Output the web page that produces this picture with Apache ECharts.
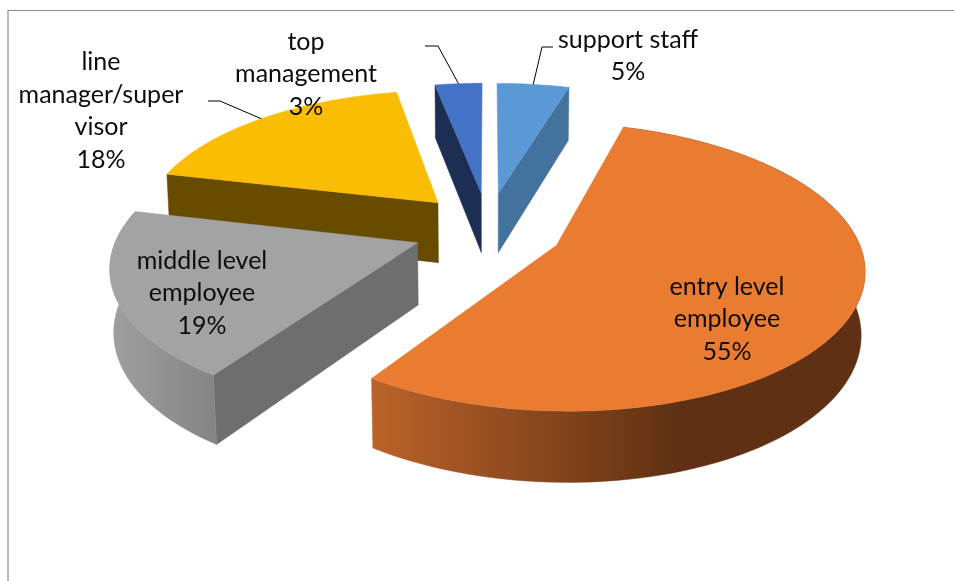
<!DOCTYPE html>
<html>
<head>
<meta charset="utf-8">
<title>Employee levels</title>
<script src="https://cdn.jsdelivr.net/npm/echarts@6/dist/echarts.min.js"></script>
<style>
  html, body { margin: 0; padding: 0; background: #fff; }
  #chart-container { width: 954px; height: 581px; }
</style>
</head>
<body>
<div id="chart-container"></div>
<script>
// values, clockwise from 12 o'clock (labels show them rounded)
var categories = ['support staff', 'entry level employee', 'middle level employee', 'line manager/supervisor', 'top management'];
var shares = [4.6, 54.9, 19.2, 18.3, 3.0];
var wrappedLabels = ['support staff', 'entry level\nemployee', 'middle level\nemployee', 'line\nmanager/super\nvisor', 'top\nmanagement'];

// styling, one entry per slice
var topColors = ['#5A99D6', '#EA7C32', '#A3A3A3', '#FBBC04', '#4472C4'];
var cutColors = ['#44729F', '#5F3013', '#6E6E6E', '#674C00', '#1C2F52'];
var wallStops = [
  ['#44729F', '#44729F'],
  ['#BB632A', '#5F3013', '#5F3013'],
  ['#A0A0A0', '#848484'],
  ['#674C00', '#674C00'],
  ['#1C2F52', '#1C2F52']
];
var labelCenters = [[628, 56], [727, 319], [202, 293], [101, 111], [306, 74]];
var leaders = [[[553, 47], [542, 47]], null, null, [[208, 101], [220, 101]], [[425, 46], [438, 46]]];

// pie projection: plane to screen with simple perspective
var cx = 488, cy = 229;
var scaleX = 298, scaleY = 136, depth = 62;
var persp = 0.148, explode = 0.25, explodeY = 1.1;

function project(x, y, z) {
  var w = 1 / (1 + persp * y + 0.01 * z);
  return [cx + scaleX * x * w, cy - scaleY * y * w + depth * z * w];
}

var total = shares.reduce(function (a, b) { return a + b; }, 0);
var slices = [];
var acc = 0;
shares.forEach(function (v) {
  var start = acc / total * Math.PI * 2;
  acc += v;
  var end = acc / total * Math.PI * 2;
  var mid = (start + end) / 2;
  slices.push({ start: start, end: end, mid: mid, ox: explode * Math.sin(mid), oy: explode * explodeY * Math.cos(mid) });
});

function rimPoints(s, z) {
  var n = Math.max(6, Math.round((s.end - s.start) * 30));
  var pts = [];
  for (var i = 0; i <= n; i++) {
    var a = s.start + (s.end - s.start) * i / n;
    pts.push(project(s.ox + Math.sin(a), s.oy + Math.cos(a), z));
  }
  return pts;
}

function gradient(stops) {
  return new echarts.graphic.LinearGradient(0, 0, 1, 0, stops.map(function (c, i) {
    return { offset: stops.length === 3 ? [0, 0.62, 1][i] : i / (stops.length - 1), color: c };
  }));
}

function renderSlice(params, api) {
  var i = api.value(0);
  var s = slices[i];
  var order = Math.round((1 - Math.cos(s.mid)) * 20) * 10;
  var top = rimPoints(s, 0);
  var bottom = rimPoints(s, 1);
  var last = top.length - 1;
  var apexTop = project(s.ox, s.oy, 0);
  var apexBottom = project(s.ox, s.oy, 1);
  var children = [];
  function poly(points, fill, z2) {
    children.push({
      type: 'polygon',
      shape: { points: points },
      style: { fill: fill, stroke: fill, lineWidth: 0.5 },
      z2: order + z2,
      silent: true
    });
  }
  // only the cut faces turned towards the viewer, then wall, then top
  if (Math.cos(s.start - Math.PI / 2) < -0.05) {
    poly([apexTop, top[0], bottom[0], apexBottom], cutColors[i], 0);
  }
  if (Math.cos(s.end + Math.PI / 2) < -0.05) {
    poly([apexTop, top[last], bottom[last], apexBottom], cutColors[i], 0);
  }
  // the far side of the rim never shows, so skip walls of far slices
  if (Math.cos(s.mid) < 0.3) {
    poly(top.concat(bottom.slice().reverse()), gradient(wallStops[i]), 1);
  }
  poly([apexTop].concat(top), topColors[i], 2);
  return { type: 'group', children: children };
}

function renderLabel(params, api) {
  var i = api.value(0);
  var s = slices[i];
  var children = [];
  if (leaders[i]) {
    var end = project(s.ox + Math.sin(s.mid), s.oy + Math.cos(s.mid), 0);
    children.push({
      type: 'polyline',
      shape: { points: leaders[i].concat([end]) },
      style: { stroke: '#000', lineWidth: 1, fill: null },
      silent: true
    });
  }
  children.push({
    type: 'text',
    style: {
      text: wrappedLabels[i] + '\n' + Math.round(shares[i]) + '%',
      x: labelCenters[i][0],
      y: labelCenters[i][1],
      align: 'center',
      verticalAlign: 'middle',
      fontFamily: 'Lato',
      fontSize: 25,
      lineHeight: 32.5,
      fill: '#0d0d0d'
    },
    silent: true
  });
  return { type: 'group', children: children };
}

var dom = document.getElementById('chart-container');
var myChart = echarts.init(dom, null, { renderer: 'canvas' });

var sliceData = categories.map(function (name, i) { return { name: name, value: [i, shares[i]] }; });

var option = {
  animation: false,
  backgroundColor: '#fff',
  graphic: [{
    type: 'polyline',
    shape: { points: [[8, 581], [8, 10.5], [954, 10.5]] },
    style: { stroke: '#8e8e8e', lineWidth: 1.2, fill: null },
    silent: true
  }],
  series: [
    { type: 'custom', coordinateSystem: 'none', renderItem: renderSlice, data: sliceData, z: 2, clip: false },
    { type: 'custom', coordinateSystem: 'none', renderItem: renderLabel, data: sliceData, z: 3, clip: false }
  ]
};

myChart.setOption(option);
window.addEventListener('resize', myChart.resize);
</script>
</body>
</html>
